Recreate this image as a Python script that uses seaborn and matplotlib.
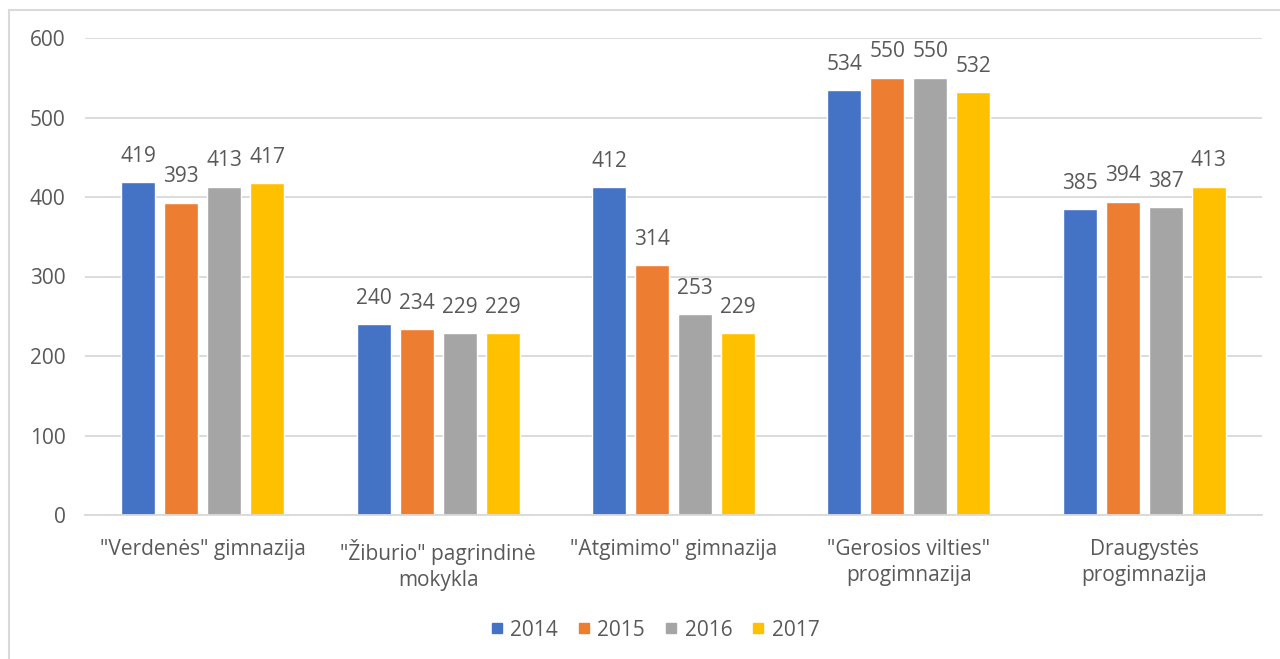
import matplotlib
matplotlib.use("Agg")
import matplotlib.pyplot as plt
import seaborn as sns
import pandas as pd
from matplotlib.lines import Line2D

categories = ['"Verdenės" gimnazija', '"Žiburio" pagrindinė\nmokykla', '"Atgimimo" gimnazija',
              '"Gerosios vilties"\nprogimnazija', 'Draugystės\nprogimnazija']
years = ["2014", "2015", "2016", "2017"]
v2014 = [419, 240, 412, 534, 385]
v2015 = [393, 234, 314, 550, 394]
v2016 = [413, 229, 253, 550, 387]
v2017 = [417, 229, 229, 532, 413]
colors = ["#4472C4", "#ED7D31", "#A5A5A5", "#FFC000"]
yticks = [0, 100, 200, 300, 400, 500, 600]

rows = []
for yr, vals in zip(years, [v2014, v2015, v2016, v2017]):
    for c, v in zip(categories, vals):
        rows.append({"cat": c, "year": yr, "value": v})
df = pd.DataFrame(rows)

sns.set_theme(style="white")
plt.rcParams['font.family'] = ['Open Sans', 'DejaVu Sans']
txt = "#595959"
fs = 15

fig = plt.figure(figsize=(12.8, 6.59), dpi=100)
ax = fig.add_axes([85/1280, 1-515/659, (1262-85)/1280, (515-38)/659])
sns.barplot(data=df, x="cat", y="value", hue="year", order=categories, hue_order=years,
            palette=colors, width=0.73, gap=0.21, ax=ax, legend=False, saturation=1)

ax.set_ylim(0, 600)
ax.set_xlim(-0.5, 4.5)
ax.set_yticks(yticks)
ax.yaxis.grid(True, color="#d9d9d9", linewidth=1.3)
ax.set_axisbelow(True)
for s in ["top", "right", "left"]:
    ax.spines[s].set_visible(False)
ax.spines["bottom"].set_color("#d9d9d9")
ax.spines["bottom"].set_linewidth(1.3)
ax.set_xlabel("")
ax.set_ylabel("")
ax.tick_params(axis="y", length=0, labelsize=fs, labelcolor=txt, pad=14)
ax.tick_params(axis="x", length=0, labelsize=fs, labelcolor=txt, pad=17)
for lbl in ax.get_xticklabels():
    lbl.set_linespacing(1.35)

for cont in ax.containers:
    ax.bar_label(cont, fmt="%d", padding=11, fontsize=fs, color=txt)

handles = [Line2D([0], [0], marker="s", linestyle="", markersize=7.5, markerfacecolor=c,
                  markeredgecolor=c) for c in colors]
fig.legend(handles, years, loc="center", bbox_to_anchor=(655/1280, 1-630/659), ncol=4, frameon=False,
           fontsize=fs, labelcolor=txt, handletextpad=0.35, columnspacing=0.95, handlelength=0.6)

# outer chart border
fig.add_artist(Line2D([9/1280, 9/1280], [0, 1-10/659], transform=fig.transFigure, color="#d9d9d9", linewidth=1.5))
fig.add_artist(Line2D([9/1280, 1], [1-10/659, 1-10/659], transform=fig.transFigure, color="#d9d9d9", linewidth=1.5))

fig.savefig("out.png", dpi=100)
